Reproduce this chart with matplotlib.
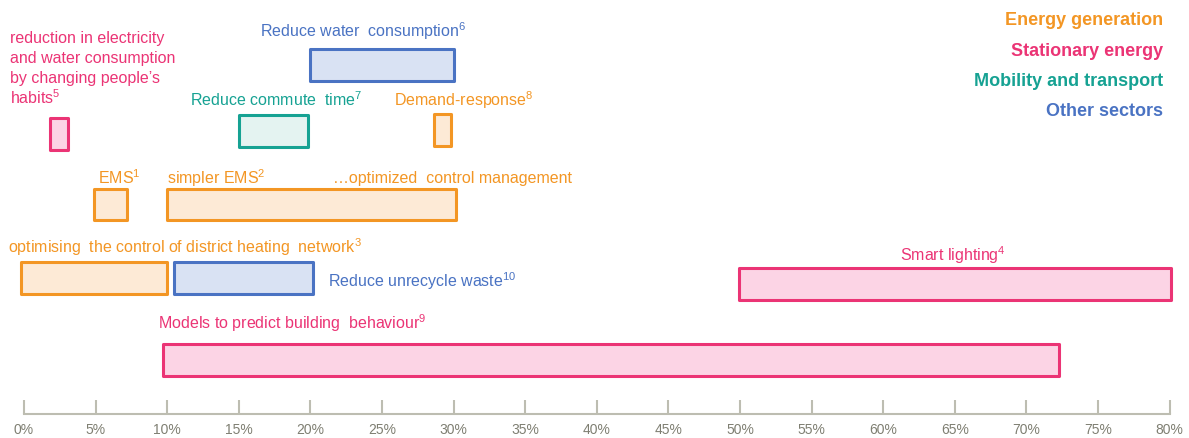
import matplotlib
matplotlib.use("Agg")
import matplotlib.pyplot as plt
from matplotlib.patches import Rectangle

plt.rcParams['font.family'] = ['Liberation Sans', 'DejaVu Sans']
plt.rcParams['mathtext.fontset'] = 'custom'
plt.rcParams['mathtext.rm'] = 'Liberation Sans'
plt.rcParams['mathtext.it'] = 'Liberation Sans'
plt.rcParams['mathtext.bf'] = 'Liberation Sans:bold'

# ---- data -------------------------------------------------------------
sectors = ["Energy generation", "Stationary energy", "Mobility and transport", "Other sectors"]
edge_colors = ["#F39624", "#EB3475", "#16A293", "#4A73C3"]
fill_colors = ["#FDEAD6", "#FCD4E5", "#E4F3F1", "#D9E2F3"]

# ranges (percent reduction): start, end, sector index
range_start = [20.0, 1.8, 15.0, 28.6, 4.9, 10.0, -0.2, 10.45, 49.9, 9.7]
range_end   = [30.0, 3.1, 19.8, 29.8, 7.2, 30.2, 10.0, 20.2, 80.1, 72.3]
range_sector = [3, 1, 2, 0, 0, 0, 0, 3, 1, 1]

tick_values = list(range(0, 81, 5))
tick_labels = [f"{v}%" for v in tick_values]

# ---- layout -----------------------------------------------------------
W, H = 1189, 439
X0, PX_PER_PCT = 24.0, 14.32
row_top = [50, 119, 116, 115, 190, 190, 263, 263, 269, 345]
row_h = [32, 32, 32, 32, 31, 31, 32, 32, 32, 32]

def pct(px):
    return (px - X0) / PX_PER_PCT

def Y(py):
    return H - py

fig = plt.figure(figsize=(W / 100, H / 100), dpi=100)
ax = fig.add_axes([0, 0, 1, 1])
ax.set_xlim(pct(0), pct(W))
ax.set_ylim(0, H)

for s, e, sec, top, h in zip(range_start, range_end, range_sector, row_top, row_h):
    ax.add_patch(Rectangle((s, Y(top + h)), e - s, h, facecolor=fill_colors[sec],
                           edgecolor=edge_colors[sec], linewidth=2.2, joinstyle='round'))

FS = 11.5
O, P, T, B = edge_colors

def label(px, py, txt, color, **kw):
    ax.text(pct(px), Y(py), txt, color=color, fontsize=FS, va='center', ha='left', **kw)

label(260, 31, r"Reduce water  consumption$^{6}$", B)
label(190, 100, r"Reduce commute  time$^{7}$", T)
label(394, 100, r"Demand-response$^{8}$", O)
label(98, 178, r"EMS$^{1}$", O)
label(167, 178, r"simpler EMS$^{2}$", O)
label(333, 178, "…optimized  control management", O)
label(8, 247, r"optimising  the control of district heating  network$^{3}$", O)
label(328, 281, r"Reduce unrecycle waste$^{10}$", B)
label(900, 255, r"Smart lighting$^{4}$", P)
label(158, 323, r"Models to predict building  behaviour$^{9}$", P)
for line, py in zip(["reduction in electricity", "and water consumption",
                     "by changing people’s", r"habits$^{5}$"], [38, 58, 78, 98]):
    label(10, py, line, P)

leg_y = [20, 51, 81, 112]
for name, col, y in zip(sectors, edge_colors, leg_y):
    ax.text(pct(1163), Y(y), name, color=col, fontsize=13, fontweight='bold',
            ha='right', va='center')

# ---- axis -------------------------------------------------------------
for side in ['top', 'left', 'right']:
    ax.spines[side].set_visible(False)
axis_col = "#BDBDB1"
ax.spines['bottom'].set_position(('data', Y(415)))
ax.spines['bottom'].set_bounds(0, 80)
ax.spines['bottom'].set_color(axis_col)
ax.spines['bottom'].set_linewidth(1.5)
ax.set_xticks(tick_values)
ax.set_xticklabels(tick_labels)
ax.tick_params(axis='x', direction='in', length=10, width=1.5, color=axis_col,
               labelcolor="#7F7F72", labelsize=10, pad=6)
ax.set_yticks([])
ax.patch.set_alpha(0)

fig.savefig("out.png", dpi=100, facecolor="white")
